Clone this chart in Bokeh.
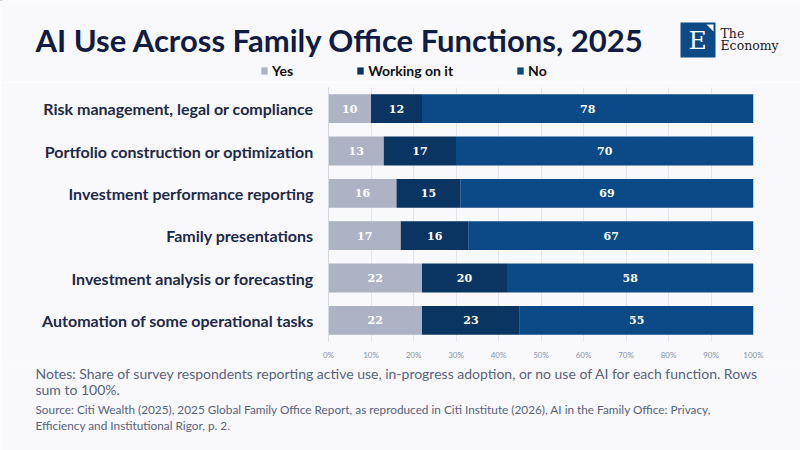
from bokeh.plotting import figure
from bokeh.models import (ColumnDataSource, Label, FactorRange, Range1d, FixedTicker,
                          CustomJSTickFormatter, Legend, LegendItem)
from bokeh.layouts import column, row
from bokeh.core.properties import value
from bokeh.embed import file_html
from bokeh.resources import INLINE

# ---------------- data ----------------
functions = [
    "Risk management, legal or compliance",
    "Portfolio construction or optimization",
    "Investment performance reporting",
    "Family presentations",
    "Investment analysis or forecasting",
    "Automation of some operational tasks",
]
yes_vals = [10, 13, 16, 17, 22, 22]
working_vals = [12, 17, 15, 16, 20, 23]
no_vals = [78, 70, 69, 67, 58, 55]
series_names = ["Yes", "Working on it", "No"]
tick_values = [0, 10, 20, 30, 40, 50, 60, 70, 80, 90, 100]

title_text = "AI Use Across Family Office Functions, 2025"
notes_lines = [
    "Notes: Share of survey respondents reporting active use, in-progress adoption, or no use of AI for each function. Rows",
    "sum to 100%.",
]
source_lines = [
    "Source: Citi Wealth (2025), 2025 Global Family Office Report, as reproduced in Citi Institute (2026), AI in the Family Office: Privacy,",
    "Efficiency and Institutional Rigor, p. 2.",
]

# ---------------- style ----------------
BG = "#f8f8fd"
COLORS = ["#adb3c4", "#0a3563", "#0b4a87"]
NAVY = "#111c44"
LABEL_C = "#1e2a4a"
NOTE_C = "#5a6380"
TICK_C = "#8a93a8"
GRID_C = "#e3e5ee"
W = 800
HEAD_H, MAIN_H, FOOT_H = 82, 280, 88


def blank_fig(h):
    f = figure(width=W, height=h, output_backend="svg", toolbar_location=None,
               x_range=Range1d(0, W), y_range=Range1d(h, 0),
               x_axis_location=None, y_axis_location=None,
               min_border_left=0, min_border_right=0, min_border_top=0, min_border_bottom=0,
               background_fill_color=BG, border_fill_color=BG, outline_line_color=None)
    f.xgrid.visible = False
    f.ygrid.visible = False
    return f


def add_text(f, t, x, y, size, color, font="Lato", style="normal", align="left"):
    f.add_layout(Label(x=x, y=y, text=t, text_font_size=size, text_color=color,
                       text_font=font, text_font_style=style, text_align=align,
                       text_baseline="middle"))


# ---------------- header ----------------
head = blank_fig(HEAD_H)
add_text(head, title_text, 35, 39, "31px", NAVY, style="bold")

# legend proxies (kept outside the visible range; only their swatches are shown)
leg_renderers = []
for c in COLORS:
    leg_renderers.append(head.hbar(y=[-1000], left=[0], right=[1], height=1,
                                   fill_color=c, line_color=None))
legend = Legend(items=[LegendItem(label=n, renderers=[r]) for n, r in zip(series_names, leg_renderers)],
                orientation="horizontal", location=(260, 3), glyph_width=8, glyph_height=9,
                label_height=14, label_standoff=4, spacing=63, padding=0, margin=0,
                border_line_color=None, background_fill_alpha=0,
                label_text_font="Lato", label_text_font_style="bold",
                label_text_font_size="14px", label_text_color="#111111")
head.add_layout(legend)

# logo
head.quad(left=[680], right=[715], top=[22], bottom=[57], fill_color="#0b4a87", line_color=None)
head.patch(x=[706, 713, 713], y=[24, 24, 31], fill_color="white", line_color=None)
add_text(head, "E", 697, 40, "25px", "white", font="DejaVu Serif", align="center")
add_text(head, "The", 720, 33, "12.5px", "#222222", font="DejaVu Serif")
add_text(head, "Economy", 720, 45, "12.5px", "#222222", font="DejaVu Serif")

# ---------------- main chart ----------------
FL, FR, FT, FB = 328, 47, 5, 20
p = figure(width=W, height=MAIN_H, output_backend="svg", toolbar_location=None,
           y_range=FactorRange(*reversed(functions), range_padding=0),
           x_range=Range1d(0, 100),
           min_border_left=FL, min_border_top=FT, min_border_right=FR, min_border_bottom=FB,
           background_fill_color=BG, border_fill_color=BG, outline_line_color=None)

left_yes = [0] * len(functions)
right_yes = yes_vals
left_w = yes_vals
right_w = [a + b for a, b in zip(yes_vals, working_vals)]
left_no = right_w
right_no = [a + b + c for a, b, c in zip(yes_vals, working_vals, no_vals)]

for (l, r, v), c in zip([(left_yes, right_yes, yes_vals), (left_w, right_w, working_vals),
                         (left_no, right_no, no_vals)], COLORS):
    src = ColumnDataSource(dict(y=functions, left=l, right=r,
                                mid=[(a + b) / 2 for a, b in zip(l, r)],
                                lab=[str(x) for x in v]))
    p.hbar(y="y", left="left", right="right", height=0.68, source=src,
           fill_color=c, line_color=None)
    p.text(x="mid", y="y", text="lab", source=src, text_color="white",
           text_font=value("DejaVu Serif"), text_font_style="bold",
           text_font_size="11px", text_align="center", text_baseline="middle")

p.xaxis.ticker = FixedTicker(ticks=tick_values)
p.xaxis.formatter = CustomJSTickFormatter(code="return tick + '%'")
p.xaxis.major_label_text_font_size = "8px"
p.xaxis.major_label_text_color = TICK_C
p.xaxis.major_label_text_font = "Lato"
p.xaxis.axis_line_color = None
p.xaxis.major_tick_line_color = None
p.xaxis.minor_tick_line_color = None
p.xaxis.major_tick_out = 0
p.xaxis.major_label_standoff = 8

p.yaxis.major_label_text_font_size = "16px"
p.yaxis.major_label_text_font = "Lato"
p.yaxis.major_label_text_font_style = "bold"
p.yaxis.major_label_text_color = LABEL_C
p.yaxis.axis_line_color = "#d5d8e2"
p.yaxis.major_tick_line_color = None
p.yaxis.minor_tick_line_color = None
p.yaxis.major_tick_out = 0
p.yaxis.major_label_standoff = 15

p.xgrid.grid_line_color = GRID_C
p.xgrid.ticker = FixedTicker(ticks=tick_values)
p.ygrid.grid_line_color = None

# ---------------- footer ----------------
foot = blank_fig(FOOT_H)
for i, t in enumerate(notes_lines):
    add_text(foot, t, 35, 11 + 16 * i, "14px", NOTE_C)
for i, t in enumerate(source_lines):
    add_text(foot, t, 35, 47 + 16 * i, "11.8px", NOTE_C)

layout = column(row(head), row(p), row(foot), spacing=0)
open("out.html", "w").write(file_html(layout, INLINE))
